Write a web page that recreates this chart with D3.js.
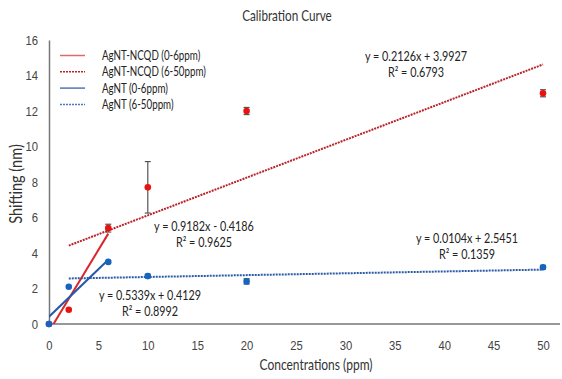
<!DOCTYPE html>
<html>
<head>
<meta charset="utf-8">
<script src="https://cdn.jsdelivr.net/npm/d3@7"></script>
<style>
  body { margin: 0; background: #fff; }
  svg { font-family: Lato, "Liberation Sans", Arial, sans-serif; }
</style>
</head>
<body>
<svg id="chart" width="562" height="379"></svg>
<script>
// data
const concentrations = [0, 2, 6, 10, 20, 50];
const ncqdShift = [0, 0.8, 5.4, 7.7, 12.0, 13.0];
const ncqdErr = [0, 0, 0.22, 1.45, 0.2, 0.2];
const agntShift = [0, 2.1, 3.5, 2.7, 2.4, 3.2];
const agntErr = [0, 0, 0, 0.1, 0.15, 0.1];

const xTicks = [0, 5, 10, 15, 20, 25, 30, 35, 40, 45, 50];
const yTicks = [0, 2, 4, 6, 8, 10, 12, 14, 16];

// trendlines: slope, intercept, x range, style, label position
const trends = [
  {name: "AgNT-NCQD (0-6ppm)", m: 0.9182, b: -0.4186, from: 0, to: 6, color: "#d9262a", legendColor: "#e06a6a", dash: null,
   eq: "y = 0.9182x - 0.4186", r2: "R² = 0.9625", lx: 204, ly: 231},
  {name: "AgNT-NCQD (6-50ppm)", m: 0.2126, b: 3.9927, from: 2, to: 50, color: "#b9252b", legendColor: "#b9252b", dash: "2,1",
   eq: "y = 0.2126x + 3.9927", r2: "R² = 0.6793", lx: 416, ly: 61},
  {name: "AgNT (0-6ppm)", m: 0.5339, b: 0.4129, from: 0, to: 6, color: "#2359a8", legendColor: "#5575b5", dash: null,
   eq: "y = 0.5339x + 0.4129", r2: "R² = 0.8992", lx: 150, ly: 300},
  {name: "AgNT (6-50ppm)", m: 0.0104, b: 2.5451, from: 2, to: 50, color: "#2a5ba6", legendColor: "#5577b8", dash: "2,1",
   eq: "y = 0.0104x + 2.5451", r2: "R² = 0.1359", lx: 467, ly: 243}
];

const svg = d3.select("#chart");
const margin = {left: 49, top: 40, right: 4, bottom: 55};
const width = 562 - margin.left - margin.right;
const height = 379 - margin.top - margin.bottom;

const x = d3.scaleLinear().domain([0, 50]).range([margin.left, margin.left + 494]);
const y = d3.scaleLinear().domain([0, 16]).range([margin.top + height, margin.top]);

// narrow the text a bit, the original uses a condensed office font
function squeeze(sel, k) {
  sel.each(function() {
    const w = this.getComputedTextLength();
    d3.select(this).attr("textLength", w * k).attr("lengthAdjust", "spacingAndGlyphs");
  });
}

const g = svg.append("g");

// title
g.append("text")
  .attr("x", 287).attr("y", 21)
  .attr("text-anchor", "middle")
  .attr("font-size", 15).attr("fill", "#333")
  .text("Calibration Curve")
  .call(squeeze, 0.78);

// axes
const xAxis = g.append("g")
  .attr("transform", `translate(0,${y(0)})`)
  .call(d3.axisBottom(x).tickValues(xTicks).tickSize(0).tickPadding(17));
xAxis.select(".domain").attr("d", `M${margin.left},0H${562 - 2}`).attr("stroke", "#777").attr("stroke-width", 1.5);
xAxis.selectAll("text").attr("font-size", 12.5).attr("fill", "#444").attr("font-family", "inherit")
  .call(squeeze, 0.9);

const yAxis = g.append("g")
  .attr("transform", `translate(${margin.left},0)`)
  .call(d3.axisLeft(y).tickValues(yTicks).tickSize(0).tickPadding(11));
yAxis.select(".domain").attr("stroke", "#777").attr("stroke-width", 1.5);
yAxis.selectAll("text").attr("font-size", 12.5).attr("fill", "#444").attr("font-family", "inherit")
  .call(squeeze, 0.9);

// axis titles
g.append("text")
  .attr("x", 316).attr("y", 370)
  .attr("text-anchor", "middle")
  .attr("font-size", 15).attr("fill", "#333")
  .text("Concentrations (ppm)")
  .call(squeeze, 0.8);
g.append("text")
  .attr("transform", "translate(22,184) rotate(-90)")
  .attr("text-anchor", "middle")
  .attr("font-size", 16.5).attr("fill", "#333")
  .text("Shifting (nm)")
  .call(squeeze, 0.88);

// clip for trendlines
svg.append("defs").append("clipPath").attr("id", "plot")
  .append("rect").attr("x", margin.left).attr("y", margin.top).attr("width", width).attr("height", height);

const line = d3.line().x(d => x(d[0])).y(d => y(d[1]));

g.append("g").attr("clip-path", "url(#plot)")
  .selectAll("path").data(trends).join("path")
  .attr("d", d => line([[d.from, d.m * d.from + d.b], [d.to, d.m * d.to + d.b]]))
  .attr("fill", "none")
  .attr("stroke", d => d.color)
  .attr("stroke-width", 2)
  .attr("stroke-dasharray", d => d.dash);

// error bars
function errorBars(vals, errs) {
  const data = concentrations.map((c, i) => ({c: c, v: vals[i], e: errs[i]})).filter(d => d.e > 0);
  const eg = g.append("g").attr("stroke", "#555").attr("stroke-width", 1.2);
  eg.selectAll("line.v").data(data).join("line")
    .attr("x1", d => x(d.c)).attr("x2", d => x(d.c))
    .attr("y1", d => y(d.v - d.e)).attr("y2", d => y(d.v + d.e));
  eg.selectAll("line.t").data(data).join("line")
    .attr("x1", d => x(d.c) - 3).attr("x2", d => x(d.c) + 3)
    .attr("y1", d => y(d.v + d.e)).attr("y2", d => y(d.v + d.e));
  eg.selectAll("line.b").data(data).join("line")
    .attr("x1", d => x(d.c) - 3).attr("x2", d => x(d.c) + 3)
    .attr("y1", d => y(d.v - d.e)).attr("y2", d => y(d.v - d.e));
}
errorBars(ncqdShift, ncqdErr);
errorBars(agntShift, agntErr);

// points
g.append("g").selectAll("circle").data(concentrations).join("circle")
  .attr("cx", d => x(d)).attr("cy", (d, i) => y(ncqdShift[i]))
  .attr("r", 3.3).attr("fill", "#e8130f");
g.append("g").selectAll("circle").data(concentrations).join("circle")
  .attr("cx", d => x(d)).attr("cy", (d, i) => y(agntShift[i]))
  .attr("r", 3.3).attr("fill", "#1764c0");

// equations
const eqs = g.append("g").attr("font-size", 13.5).attr("fill", "#222").attr("text-anchor", "middle");
eqs.selectAll("text.eq").data(trends).join("text")
  .attr("x", d => d.lx).attr("y", d => d.ly).text(d => d.eq)
  .call(squeeze, 0.8);
eqs.selectAll("text.r2").data(trends).join("text")
  .attr("x", d => d.lx).attr("y", d => d.ly + 16).text(d => d.r2)
  .call(squeeze, 0.8);

// legend
const legend = g.append("g").attr("transform", "translate(60,55.5)");
const item = legend.selectAll("g").data(trends).join("g")
  .attr("transform", (d, i) => `translate(0,${i * 16.3})`);
item.append("line")
  .attr("x1", 0).attr("x2", 25)
  .attr("stroke", d => d.legendColor)
  .attr("stroke-width", 1.5)
  .attr("stroke-dasharray", d => d.dash);
item.append("text")
  .attr("x", 42).attr("y", 4.5)
  .attr("font-size", 13).attr("fill", "#222")
  .text(d => d.name)
  .call(squeeze, 0.75);
</script>
</body>
</html>
